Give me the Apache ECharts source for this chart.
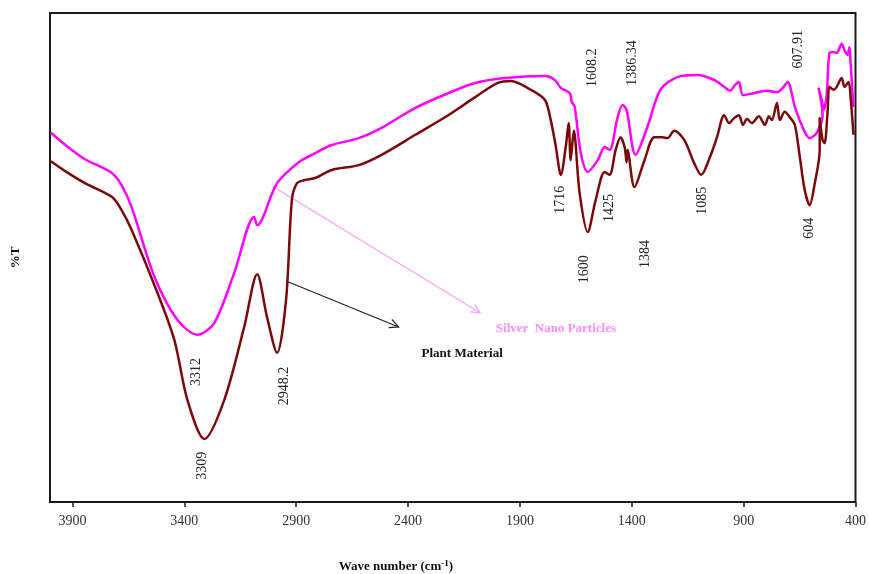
<!DOCTYPE html>
<html><head><meta charset="utf-8">
<script src="https://cdn.jsdelivr.net/npm/echarts@6/dist/echarts.min.js"></script>
<style>html,body{margin:0;padding:0;background:#fff}#c{width:869px;height:574px}</style>
</head><body><div id="c"></div>
<script>
// ---- data ----
const wavenumberTicks = [3900, 3400, 2900, 2400, 1900, 1400, 900, 400];

const silverWn = [3996,3920,3844,3724,3680,3635,3533,3430,3341,3266,3177,3088,3074,2985,2888,2812,2741,2620,2518,2367,2220,2100,1966,1788,1744,1717,1677,1668,1655,1628,1597,1552,1521,1499,1463,1441,1423,1383,1330,1272,1196,1107,1032,987,961,938,921,903,854,796,751,725,703,671,631,605,573,547,565,551,542,529,516,498,484,462,449,436,427,422,409];
const silverT  = [75.5,72.6,70.1,67.3,64.8,60.3,46.0,37.2,34.2,36.6,46.8,58.3,56.6,65.2,69.5,71.4,73.0,74.4,76.5,80.6,83.6,85.7,86.7,87.1,86.3,84.7,83.6,81.8,80.8,71.4,67.5,69.9,72.6,72.0,78.7,81.2,80.2,71.0,76.7,84.3,86.9,87.3,86.3,84.9,84.1,85.3,85.9,83.2,83.6,84.1,83.8,84.7,85.9,80.8,76.1,74.4,75.5,79.1,84.7,82.2,80.2,83.2,91.8,92.0,91.8,93.7,92.4,91.4,93.0,89.8,80.8];

const plantWn = [3996,3920,3844,3724,3680,3635,3519,3444,3386,3310,3221,3132,3074,3030,2985,2945,2919,2896,2865,2812,2741,2620,2518,2367,2220,2100,1998,1940,1851,1788,1762,1739,1717,1695,1682,1673,1659,1633,1597,1561,1521,1499,1472,1450,1432,1423,1419,1388,1343,1299,1263,1241,1210,1165,1121,1090,1050,1019,987,965,943,921,903,885,863,832,805,787,774,751,738,716,694,671,649,627,605,582,560,560,547,538,525,516,498,484,462,449,431,422,409];
const plantT  = [69.7,67.3,65.2,62.4,59.7,55.6,42.7,33.1,20.9,12.9,20.9,35.8,46.6,37.8,30.5,41.3,61.8,65.2,65.8,66.3,67.9,68.9,71.0,75.1,79.1,82.8,85.7,86.1,84.3,82.2,78.1,72.6,66.9,72.6,77.5,69.9,75.9,63.2,55.2,61.8,67.5,66.9,72.0,74.6,72.6,69.5,72.0,64.4,69.9,74.6,74.6,74.4,75.9,74.0,69.3,66.9,70.6,74.6,79.1,77.5,78.5,79.1,77.1,78.3,77.5,78.9,77.1,78.9,78.1,81.6,78.1,79.8,78.7,77.1,70.6,63.8,60.7,65.2,72.0,78.5,74.0,73.4,79.6,84.9,84.3,84.9,86.7,84.9,85.9,82.8,75.1];

const peakLabels = ['3312','3309','2948.2','1716','1608.2','1386.34','1600','1425','1384','1085','607.91','604'];
const seriesNames = ['Silver  Nano Particles', 'Plant Material'];

// ---- layout (positions in data space) ----
const peakLabelPos = [[3346,26.6],[3319,7.4],[2954,23.7],[1717,61.8],[1575,88.8],[1397,89.8],[1610,47.6],[1499,60.1],[1339,50.7],[1085,61.6],[654,92.6],[605,56.0]];
const namePos = [[1739,35.4],[2158,30.3]];
const arrowPos = [[[3008,64.6],[2078,38.7]], [[2945,45.2],[2442,35.8]]];

const FONT = 'Liberation Serif';
const chart = echarts.init(document.getElementById('c'), null, {renderer:'canvas'});
const pairs = (xs, ys) => xs.map((x, i) => [x, ys[i]]);

chart.setOption({
  animation: false,
  backgroundColor: '#fff',
  grid: {left: 50, right: 10, top: 13, bottom: 72, show: true, borderColor: '#1a1a1a', borderWidth: 2, backgroundColor: 'transparent'},
  xAxis: {
    type: 'value', min: 400, max: 4000, inverse: true,
    axisLine: {show: false},
    axisTick: {show: true, inside: false, length: 5, customValues: wavenumberTicks, lineStyle: {color: '#1a1a1a', width: 1.5}},
    axisLabel: {customValues: wavenumberTicks, margin: 12, color: '#333', fontFamily: FONT, fontSize: 14, formatter: v => String(v)},
    splitLine: {show: false}
  },
  yAxis: {
    type: 'value', min: 0, max: 100,
    name: '%T', nameLocation: 'middle', nameGap: 28, nameRotate: 90,
    nameTextStyle: {fontFamily: FONT, fontWeight: 'bold', fontSize: 13, color: '#111'},
    axisLine: {show: false}, axisTick: {show: false}, axisLabel: {show: false}, splitLine: {show: false}
  },
  series: [
    {name: seriesNames[0], type: 'line', data: pairs(silverWn, silverT), showSymbol: false, smooth: 0.3,
     lineStyle: {color: '#ff00ff', width: 2.5}, itemStyle: {color: '#ff00ff'}},
    {name: seriesNames[1], type: 'line', data: pairs(plantWn, plantT), showSymbol: false, smooth: 0.3,
     lineStyle: {color: '#7a0a0a', width: 2.5}, itemStyle: {color: '#7a0a0a'}}
  ]
});

const px = p => chart.convertToPixel({gridIndex: 0}, p);
const graphics = [];
peakLabels.forEach((t, i) => {
  const p = px(peakLabelPos[i]);
  graphics.push({type: 'text', x: p[0], y: p[1], rotation: Math.PI / 2,
    style: {text: t, fontFamily: FONT, fontSize: 14, fill: '#222', align: 'center', verticalAlign: 'middle'}});
});
const nameColors = ['#ff8cff', '#111'];
seriesNames.forEach((t, i) => {
  const p = px(namePos[i]);
  graphics.push({type: 'text', x: p[0], y: p[1],
    style: {text: t, fontFamily: FONT, fontSize: 13, fontWeight: 'bold', fill: nameColors[i], align: 'center', verticalAlign: 'middle'}});
});
function arrow(a, b, color, w) {
  const p0 = px(a), p1 = px(b);
  const ang = Math.atan2(p1[1] - p0[1], p1[0] - p0[0]);
  const L = 10, s = 0.45;
  const h1 = [p1[0] - L * Math.cos(ang - s), p1[1] - L * Math.sin(ang - s)];
  const h2 = [p1[0] - L * Math.cos(ang + s), p1[1] - L * Math.sin(ang + s)];
  graphics.push({type: 'polyline', shape: {points: [p0, p1]}, style: {stroke: color, lineWidth: w, fill: null}});
  graphics.push({type: 'polyline', shape: {points: [h1, p1, h2]}, style: {stroke: color, lineWidth: w, fill: null}});
}
arrow(arrowPos[0][0], arrowPos[0][1], '#ff9cff', 1.2);
arrow(arrowPos[1][0], arrowPos[1][1], '#222', 1.2);

graphics.push({type: 'text', x: 396, y: 567,
  style: {text: '{b|Wave number (cm}{s|-1}{b|)}', align: 'center', verticalAlign: 'middle',
    rich: {b: {fontFamily: FONT, fontSize: 13, fontWeight: 'bold', fill: '#111', color: '#111'},
           s: {fontFamily: FONT, fontSize: 9, fontWeight: 'bold', color: '#111', verticalAlign: 'top', padding: [0, 0, 6, 0]}}}});

chart.setOption({graphic: graphics});
</script></body></html>
